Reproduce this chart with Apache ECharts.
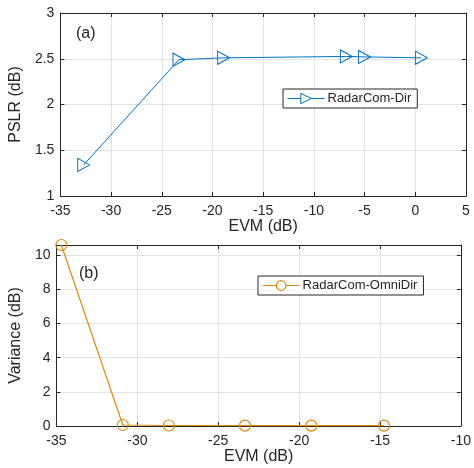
<!DOCTYPE html>
<html>
<head>
<meta charset="utf-8">
<script src="https://cdn.jsdelivr.net/npm/echarts@6/dist/echarts.min.js"></script>
<style>html,body{margin:0;padding:0;background:#fff}#c{width:474px;height:468px}</style>
</head>
<body>
<div id="c"></div>
<script>
// Data
const evmA = [-32.7, -23.3, -18.9, -6.8, -5.0, 0.6];
const pslr = [1.34, 2.49, 2.51, 2.525, 2.52, 2.51];
const evmB = [-34.7, -30.9, -28.05, -23.35, -19.25, -14.75];
const variance = [10.6, 0.06, 0.03, 0.02, 0.02, 0.02];
const xTicksA = [-35, -30, -25, -20, -15, -10, -5, 0, 5];
const yTicksA = [1, 1.5, 2, 2.5, 3];
const xTicksB = [-35, -30, -25, -20, -15, -10];
const yTicksB = [0, 2, 4, 6, 8, 10];
const nameA = 'RadarCom-Dir';
const nameB = 'RadarCom-OmniDir';

const FONT = '"Liberation Sans", Arial, Helvetica, sans-serif';
const AX = '#262626';
const GRIDC = '#e3e3e3';
const BLUE = '#0072BD';
const ORANGE = '#DD8A12';

function mainX(grid, min, max, interval) {
  return {
    type: 'value', gridIndex: grid, min, max, interval, position: 'bottom',
    name: 'EVM (dB)', nameLocation: 'middle', nameGap: 23,
    nameTextStyle: {fontFamily: FONT, fontSize: 16, color: AX},
    axisLine: {show: true, lineStyle: {color: AX, width: 1}},
    axisTick: {show: true, inside: true, length: 4, lineStyle: {color: AX}},
    axisLabel: {fontFamily: FONT, fontSize: 14, color: AX, margin: 8},
    splitLine: {show: true, lineStyle: {color: GRIDC, width: 1}}
  };
}
function boxX(grid, min, max, interval) {
  return {
    type: 'value', gridIndex: grid, min, max, interval, position: 'top',
    axisLine: {show: true, onZero: false, lineStyle: {color: AX}},
    axisTick: {show: true, inside: true, length: 4, lineStyle: {color: AX}},
    axisLabel: {show: false}, splitLine: {show: false}
  };
}
function mainY(grid, min, max, interval, name, gap) {
  return {
    type: 'value', gridIndex: grid, min, max, interval, position: 'left',
    name, nameLocation: 'middle', nameGap: gap,
    nameTextStyle: {fontFamily: FONT, fontSize: 16, color: AX},
    axisLine: {show: true, onZero: false, lineStyle: {color: AX}},
    axisTick: {show: true, inside: true, length: 4, lineStyle: {color: AX}},
    axisLabel: {fontFamily: FONT, fontSize: 14, color: AX, margin: 6, showMaxLabel: max % interval === 0},
    splitLine: {show: true, lineStyle: {color: GRIDC, width: 1}}
  };
}
function boxY(grid, min, max, interval) {
  return {
    type: 'value', gridIndex: grid, min, max, interval, position: 'right',
    axisLine: {show: true, onZero: false, lineStyle: {color: AX}},
    axisTick: {show: true, inside: true, length: 4, lineStyle: {color: AX}},
    axisLabel: {show: false}, splitLine: {show: false}
  };
}

const chart = echarts.init(document.getElementById('c'), null, {renderer: 'canvas'});
chart.setOption({
  animation: false,
  backgroundColor: '#fff',
  grid: [
    {left: 55, top: 13, width: 411, height: 183},
    {left: 55, top: 245, width: 410, height: 181}
  ],
  xAxis: [
    mainX(0, xTicksA[0], xTicksA[xTicksA.length - 1], 5),
    boxX(0, xTicksA[0], xTicksA[xTicksA.length - 1], 5),
    mainX(1, xTicksB[0], xTicksB[xTicksB.length - 1], 5),
    boxX(1, xTicksB[0], xTicksB[xTicksB.length - 1], 5)
  ],
  yAxis: [
    mainY(0, yTicksA[0], yTicksA[yTicksA.length - 1], 0.5, 'PSLR (dB)', 30),
    boxY(0, yTicksA[0], yTicksA[yTicksA.length - 1], 0.5),
    mainY(1, 0, 10.6, 2, 'Variance (dB)', 27),
    boxY(1, 0, 10.6, 2)
  ],
  legend: [
    {
      data: [{name: nameA, itemStyle: {color: '#fff', borderColor: BLUE, borderWidth: 1}}],
      left: 283, top: 89, orient: 'horizontal',
      backgroundColor: '#fff', borderColor: '#262626', borderWidth: 1,
      padding: [3, 6, 3, 4], itemWidth: 37, itemHeight: 13, itemGap: 4,
      lineStyle: {width: 1, color: BLUE},
      textStyle: {fontFamily: FONT, fontSize: 13, color: AX, padding: [0, 0, 0, -2]}
    },
    {
      data: [{name: nameB, itemStyle: {color: '#fff', borderColor: ORANGE, borderWidth: 1.2}}],
      left: 258, top: 276, orient: 'horizontal',
      backgroundColor: '#fff', borderColor: '#262626', borderWidth: 1,
      padding: [3, 6, 3, 4], itemWidth: 37, itemHeight: 12, itemGap: 4,
      lineStyle: {width: 1.2, color: ORANGE},
      textStyle: {fontFamily: FONT, fontSize: 13, color: AX, padding: [0, 0, 0, -2]}
    }
  ],
  graphic: [
    {type: 'text', left: 76, top: 26, style: {text: '(a)', font: '16px ' + FONT, fill: AX}},
    {type: 'text', left: 79, top: 266, style: {text: '(b)', font: '16px ' + FONT, fill: AX}}
  ],
  series: [
    {
      name: nameA, type: 'line', xAxisIndex: 0, yAxisIndex: 0,
      data: evmA.map((x, i) => [x, pslr[i]]),
      symbol: 'triangle', symbolRotate: -90, symbolSize: [13, 12],
      lineStyle: {color: BLUE, width: 1},
      itemStyle: {color: 'rgba(255,255,255,0)', borderColor: BLUE, borderWidth: 1},
      color: BLUE
    },
    {
      name: nameB, type: 'line', xAxisIndex: 2, yAxisIndex: 2,
      data: evmB.map((x, i) => [x, variance[i]]),
      symbol: 'circle', symbolSize: 11,
      lineStyle: {color: ORANGE, width: 1.2},
      itemStyle: {color: 'rgba(255,255,255,0)', borderColor: ORANGE, borderWidth: 1.2},
      color: ORANGE
    }
  ]
});
</script>
</body>
</html>
